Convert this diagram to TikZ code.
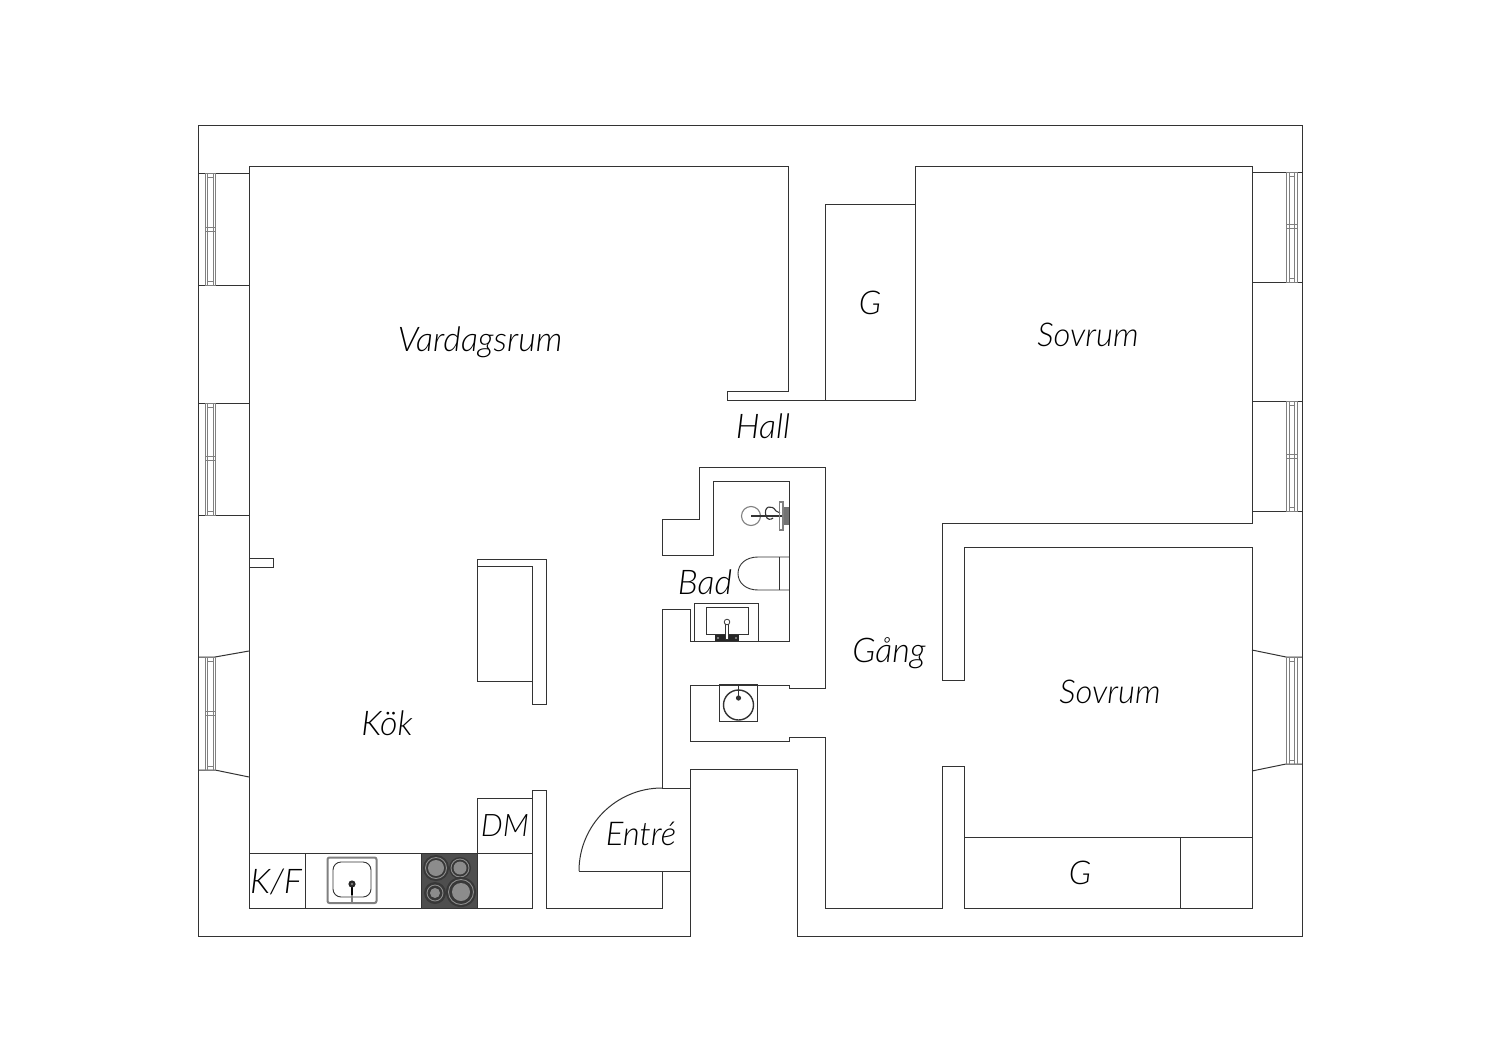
\documentclass[tikz,border=0pt]{standalone}
\usepackage{fontspec}
\setmainfont{Lato}
\newfontfamily\labfont{Lato Light Italic}
\definecolor{wall}{HTML}{333333}
\definecolor{glass}{HTML}{808080}
\definecolor{hob}{HTML}{4E4E4E}
\definecolor{ring}{HTML}{8C8C8C}
\tikzset{
  wallline/.style={draw=wall,line width=0.5pt,line join=miter},
  thinline/.style={draw=glass,line width=0.4pt},
  fixture/.style={draw=wall,line width=0.45pt},
  roomlabel/.style={font=\labfont\fontsize{17}{20}\selectfont,text=black,inner sep=0pt},
  smalllabel/.style={roomlabel,font=\labfont\fontsize{15.5}{18}\selectfont},
  midlabel/.style={roomlabel,font=\labfont\fontsize{16.4}{19}\selectfont},
}
\newcommand{\winpane}[3]{% x-left, y-top, y-bottom
  \draw[thinline] (#1,#2) rectangle ++(10.5,#3-#2);
  \draw[thinline] (#1+2.5,#2+4) -- (#1+2.5,#3-4);
  \draw[thinline] (#1+8,#2+4) -- (#1+8,#3-4);
  \draw[thinline] (#1+2.5,#2) -- (#1+2.5,#2+4) -- (#1+8,#2+4) -- (#1+8,#2);
  \draw[thinline] (#1+2.5,#3) -- (#1+2.5,#3-4) -- (#1+8,#3-4) -- (#1+8,#3);
}
\newcommand{\windiv}[2]{% x-left, y-mid
  \draw[thinline] (#1,#2-2) -- (#1+10.5,#2-2);
  \draw[thinline] (#1,#2+2) -- (#1+10.5,#2+2);
}
\begin{document}
\begin{tikzpicture}[x=0.5pt,y=-0.5pt]
\useasboundingbox (0,0) rectangle (1500,1060);
\fill[white] (0,0) rectangle (1500,1060);
% outer outline
\draw[wallline] (198,125) -- (1302,125) -- (1302,936) -- (797,936) -- (797,769) -- (690,769) -- (690,936) -- (198,936) -- cycle;
% inner walls
\draw[wallline] (662,788) -- (662,609) -- (690,609) -- (690,641) -- (789,641) -- (789,481) -- (713,481) -- (713,555) -- (662,555) -- (662,519) -- (699,519) -- (699,467) -- (825,467) -- (825,688) -- (789,688) -- (789,685) -- (690,685) -- (690,741) -- (789,741) -- (789,737) -- (825,737) -- (825,908) -- (942,908) -- (942,766) -- (964,766) -- (964,908) -- (1252,908) -- (1252,547) -- (964,547) -- (964,680) -- (942,680) -- (942,523) -- (1252,523) -- (1252,166) -- (915,166) -- (915,400) -- (727,400) -- (727,391) -- (788,391) -- (788,166) -- (249,166) -- (249,908) -- (532,908) -- (532,790) -- (546,790) -- (546,908) -- (662,908) -- (662,871);
% closet G top
\draw[wallline] (825,400) -- (825,204) -- (915,204);
% bedroom closet
\draw[wallline] (964,837) -- (1252,837);
\draw[wallline] (1180,837) -- (1180,908);
% stub in west wall
\draw[wallline] (249,558) -- (273,558) -- (273,567) -- (249,567);
% island
\draw[wallline] (477,559) -- (546,559) -- (546,704) -- (532,704) -- (532,681) -- (477,681) -- cycle;
\draw[wallline] (477,566) -- (532,566) -- (532,681);
% kitchen
\draw[wallline] (249,853) -- (532,853);
\draw[wallline] (305,853) -- (305,908);
\draw[wallline] (477,853) -- (477,798) -- (532,798);
% hob
\fill[hob,draw=wall,line width=0.5pt] (421,853) rectangle (477,908);
\foreach \cx/\cy/\ra/\rb/\rc in {436/868/13/10.5/8, 460/868/11/9/6.5, 435/893/11/8/5, 461/892/15/12.5/9}{
  \fill[black!78] (\cx,\cy) circle[radius=\ra];
  \draw[draw=black!45,line width=0.45pt] (\cx,\cy) circle[radius=\rb];
  \fill[ring] (\cx,\cy) circle[radius=\rc];
}
% kitchen sink
\draw[draw=glass,line width=1pt,rounded corners=1pt] (327.5,857.5) rectangle (376.5,903);
\draw[fixture,rounded corners=4pt] (333,862) rectangle (371,897);
\draw[draw=black,line width=1pt] (352,885) -- (352,895);
\draw[draw=glass,line width=1pt] (352,895) -- (352,902);
\fill[black!85] (352,884) circle[radius=3.6];
\fill[glass] (352,884) circle[radius=1.4];
% entry door
\draw[wallline] (662,788) -- (690,788);
\draw[wallline] (662,788) arc[start angle=-90,end angle=-180,radius=83];
\draw[wallline] (579,871) -- (690,871);
% bath: toilet
\draw[fixture] (789,557) -- (758,557) .. controls (746,557) and (738,564) .. (738,573.5) .. controls (738,583) and (746,590) .. (758,590) -- (789,590);
\draw[fixture] (779,557) -- (779,590);
% bath: shower
\draw[draw=glass,line width=0.55pt] (751,516) circle[radius=9.5];
\draw[draw=wall,line width=0.55pt] (766,516) .. controls (763,506) and (772,504) .. (776,511) -- (780,513);
\draw[draw=wall,line width=0.55pt] (766,516) .. controls (767,520) and (771,520) .. (773,518);
\draw[draw=wall,line width=1pt] (751,516) -- (786,516);
\draw[draw=glass,line width=0.6pt] (779.5,502) rectangle (783,530);
\fill[black!55] (784,507) rectangle (789,525);
% bath: basin
\draw[fixture] (694,641) -- (694,603) -- (758,603) -- (758,641);
\draw[fixture] (706,634) -- (706,607) -- (748,607) -- (748,634) -- cycle;
\fill[black!85] (715,635) rectangle (739,641);
\foreach \kx in {718,727,736}{\fill[black!40] (\kx,638) circle[radius=1.2];}
\fill[white,draw=wall,line width=0.4pt] (725.5,622) rectangle (728.5,639);
\fill[white,draw=wall,line width=0.4pt] (727,622) circle[radius=2.8];
% lower basin
\draw[fixture] (719,684) rectangle (757,721);
\draw[fixture,line width=0.7pt] (738.5,705) circle[radius=15];
\draw[draw=wall,line width=0.8pt] (738.5,684) -- (738.5,698);
\fill[wall] (738.5,698) circle[radius=2.6];
% west windows
\draw[wallline] (198,173) -- (249,173);
\draw[wallline] (198,285) -- (249,285);
\winpane{205}{173}{285}\windiv{205}{229}
\draw[wallline] (198,403) -- (249,403);
\draw[wallline] (198,515) -- (249,515);
\winpane{205}{403}{515}\windiv{205}{458}
\draw[wallline] (198,657) -- (215,657) -- (249,651);
\draw[wallline] (198,770) -- (215,770) -- (249,777);
\winpane{205}{657}{770}\windiv{205}{713}
% east windows
\draw[wallline] (1252,172) -- (1302,172);
\draw[wallline] (1252,282) -- (1302,282);
\winpane{1286.5}{172}{282}\windiv{1286.5}{226}
\draw[wallline] (1252,401) -- (1302,401);
\draw[wallline] (1252,511) -- (1302,511);
\winpane{1286.5}{401}{511}\windiv{1286.5}{456}
\draw[wallline] (1252,650) -- (1286,657) -- (1302,657);
\draw[wallline] (1252,771) -- (1286,764) -- (1302,764);
\winpane{1286.5}{657}{764}
% labels
\node[roomlabel] (vardagsrum) at (480,342) {Vardagsrum};
\node[roomlabel] (hall) at (763,426.5) {Hall};
\node[midlabel] (g1) at (870,303) {G};
\node[midlabel] (sovrum1) at (1088,335) {Sovrum};
\node[midlabel] (sovrum2) at (1110,692) {Sovrum};
\node[roomlabel] (gang) at (889,653) {Gång};
\node[roomlabel] (bad) at (705,582.5) {Bad};
\node[roomlabel] (kok) at (387,723) {Kök};
\node[smalllabel] (dm) at (505,826) {DM};
\node[roomlabel] (kf) at (276,882) {K/F};
\node[midlabel] (entre) at (641,834) {Entré};
\node[midlabel] (g2) at (1080,873) {G};
\end{tikzpicture}
\end{document}
